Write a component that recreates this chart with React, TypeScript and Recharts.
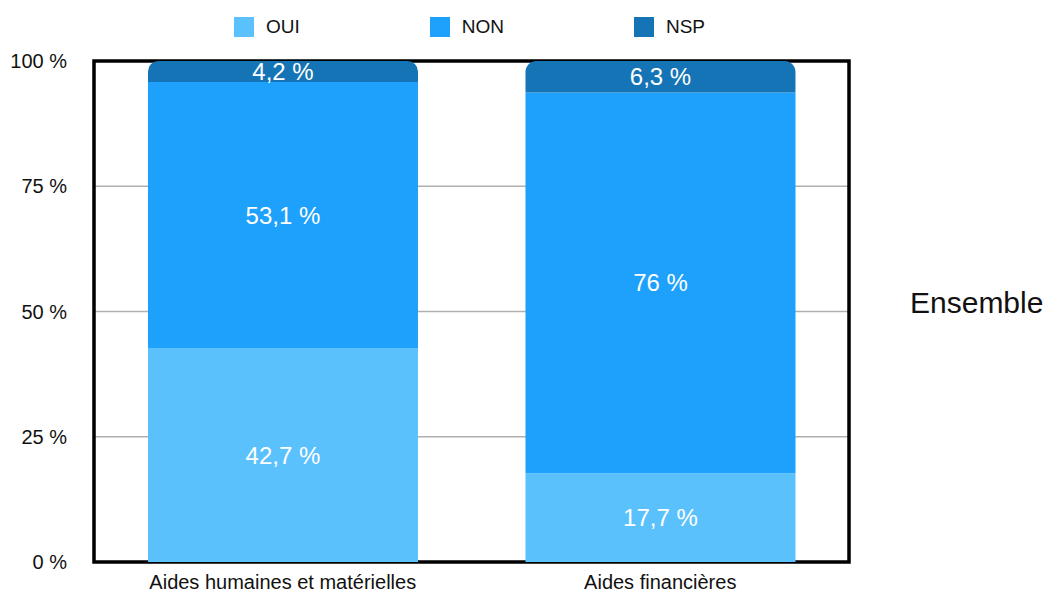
import React from "react";
import {
  BarChart,
  Bar,
  XAxis,
  YAxis,
  CartesianGrid,
  LabelList,
  ReferenceArea,
  Legend,
  Customized,
} from "recharts";

const categories = ["Aides humaines et matérielles", "Aides financières"];
const ouiValues = [42.7, 17.7];
const nonValues = [53.1, 76];
const nspValues = [4.2, 6.3];
const yTicks = [0, 25, 50, 75, 100];
const seriesNames = ["OUI", "NON", "NSP"];
const seriesColors = ["#5BC1FD", "#1DA1FC", "#1574B5"];
const sideLabel = "Ensemble";

const data = categories.map((c, i) => ({
  name: c,
  OUI: ouiValues[i],
  NON: nonValues[i],
  NSP: nspValues[i],
}));

const FONT = "'Liberation Sans', Arial, Helvetica, sans-serif";

const fmt = (v: any) => String(v).replace(".", ",") + " %";

const LegendContent = () => (
  <div
    style={{
      display: "flex",
      justifyContent: "center",
      alignItems: "center",
      width: 755,
      marginLeft: 92,
      fontFamily: FONT,
      fontSize: 19,
      color: "#111",
    }}
  >
    {seriesNames.map((n, i) => (
      <div
        key={n}
        style={{
          display: "flex",
          alignItems: "center",
          marginLeft: i === 0 ? 0 : 130,
        }}
      >
        <div
          style={{
            width: 20,
            height: 20,
            background: seriesColors[i],
            marginRight: 12,
          }}
        />
        <span>{n}</span>
      </div>
    ))}
  </div>
);

const SideText = () => (
  <text
    x={910}
    y={313}
    fontFamily={FONT}
    fontSize={30}
    fill="#111"
    textAnchor="start"
  >
    {sideLabel}
  </text>
);

export default function App() {
  return (
    <div style={{ position: "absolute", left: 0, top: 0, background: "#fff" }}>
      <BarChart
        width={1063}
        height={594}
        data={data}
        margin={{ top: 61, right: 214, bottom: 2, left: 0 }}
        barCategoryGap="14.3%"
        style={{ fontFamily: FONT }}
      >
        <CartesianGrid vertical={false} stroke="#b0b0b0" strokeWidth={1.5} />
        <XAxis
          dataKey="name"
          height={30}
          axisLine={false}
          tickLine={false}
          tickSize={0}
          tickMargin={13}
          tick={{ fontSize: 20, fill: "#111", fontFamily: FONT }}
          interval={0}
        />
        <YAxis
          width={94}
          domain={[0, 100]}
          ticks={yTicks}
          allowDataOverflow
          axisLine={false}
          tickLine={false}
          tickSize={0}
          tickMargin={27}
          tickFormatter={(v) => `${v} %`}
          tick={{ fontSize: 20, fill: "#111", fontFamily: FONT }}
        />
        <Legend
          layout="horizontal"
          verticalAlign="middle"
          align="center"
          wrapperStyle={{ top: 16, left: 0, width: 1063 }}
          content={<LegendContent />}
        />
        {seriesNames.map((n, i) => (
          <Bar
            key={n}
            dataKey={n}
            stackId="a"
            fill={seriesColors[i]}
            isAnimationActive={false}
            radius={i === seriesNames.length - 1 ? [11, 11, 0, 0] : 0}
          >
            <LabelList
              dataKey={n}
              position="center"
              formatter={fmt}
              fill="#fff"
              fontSize={24}
              fontFamily={FONT}
            />
          </Bar>
        ))}
        <ReferenceArea
          y1={0}
          y2={100}
          fill="none"
          fillOpacity={0}
          stroke="#000"
          strokeWidth={3.5}
          ifOverflow="visible"
        />
        <Customized component={SideText} />
      </BarChart>
    </div>
  );
}
